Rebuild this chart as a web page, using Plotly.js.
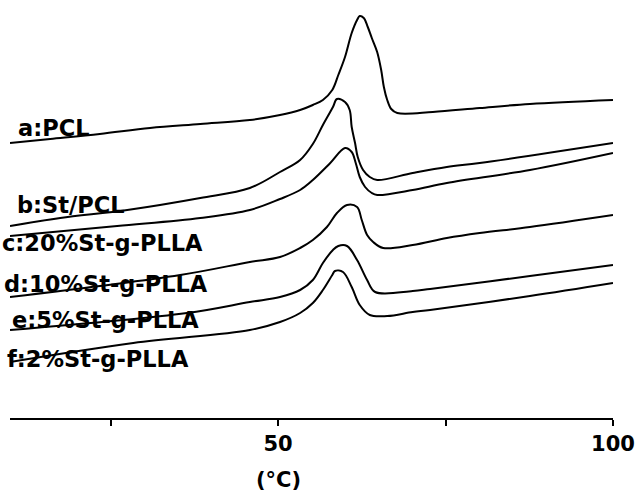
<!DOCTYPE html>
<html>
<head>
<meta charset="utf-8">
<script src="https://cdn.plot.ly/plotly-3.0.1.min.js"></script>
<style>html,body{margin:0;padding:0;background:#fff;}#chart{width:636px;height:491px;}</style>
</head>
<body>
<div id="chart"></div>
<script>
// Temperature (°C) and heat flow (arbitrary units, curves offset)
var tempA = [10, 16, 23.4, 30.9, 38.4, 45.8, 50.3, 53.3, 55.2, 56.7, 58.1, 59.0, 60.0, 61.0, 61.8, 62.2, 62.8, 63.4, 64.0, 64.8, 65.4, 65.8, 66.3, 66.9, 67.8, 73.1, 80.1, 87.6, 100];
var flowA = [27.5, 27.9, 28.4, 29.0, 29.4, 29.8, 30.3, 30.8, 31.3, 31.8, 32.8, 34.3, 36.1, 38.5, 39.8, 40.2, 40.0, 39.1, 38.0, 36.6, 34.8, 33.1, 31.8, 30.9, 30.5, 30.6, 31.0, 31.4, 31.8];

var tempB = [10, 17.5, 27.5, 38.4, 45.8, 50.3, 53.3, 55.2, 56.7, 58.2, 58.8, 60.0, 60.7, 61.0, 61.5, 61.9, 62.7, 63.7, 64.8, 70.1, 75.2, 80.1, 100];
var flowB = [19.2, 20.0, 20.8, 22.0, 23.0, 24.6, 25.8, 27.4, 29.3, 31.1, 31.9, 31.6, 30.8, 29.1, 27.5, 26.1, 24.8, 24.1, 23.8, 24.5, 25.1, 25.5, 27.5];

var tempC = [10, 26.0, 38.4, 45.8, 50.3, 53.3, 55.2, 57.8, 60.0, 61.0, 61.6, 62.2, 63.0, 64.0, 64.8, 70.1, 75.2, 87.6, 100];
var flowC = [18.2, 19.2, 20.0, 20.8, 21.9, 22.8, 23.8, 25.5, 27.0, 26.6, 25.5, 24.1, 23.1, 22.5, 22.3, 22.8, 23.5, 24.8, 26.5];

var tempD = [10, 35.4, 45.8, 50.3, 53.3, 55.2, 57.3, 58.8, 60.3, 61.8, 62.5, 63.3, 64.2, 65.7, 70.1, 75.2, 80.1, 87.6, 100];
var flowD = [12.1, 14.3, 15.6, 16.1, 17.0, 17.8, 19.1, 20.5, 21.3, 21.1, 19.8, 18.3, 17.6, 17.0, 17.3, 18.0, 18.5, 19.1, 20.3];

var tempE = [10, 36.4, 45.8, 50.3, 53.3, 55.2, 56.7, 58.2, 59.0, 60.3, 61.8, 63.3, 64.5, 70.1, 72.7, 87.6, 100];
var flowE = [8.8, 10.5, 11.6, 12.1, 12.8, 13.8, 15.5, 16.8, 17.2, 17.2, 15.8, 13.8, 12.6, 12.7, 12.9, 14.2, 15.3];

var tempF = [10, 28.4, 45.8, 50.3, 53.3, 55.2, 56.7, 58.1, 58.5, 59.7, 61.0, 62.2, 63.7, 66.3, 70.1, 72.7, 87.6, 100];
var flowF = [5.6, 7.5, 8.8, 9.6, 10.5, 11.5, 12.8, 14.3, 14.7, 14.6, 13.1, 11.3, 10.3, 10.2, 10.6, 10.8, 12.2, 13.5];

var seriesLabels = ["a:PCL", "b:St/PCL", "c:20%St-g-PLLA", "d:10%St-g-PLLA", "e:5%St-g-PLLA", "f:2%St-g-PLLA"];
var labelFlow = [29.0, 21.3, 17.5, 13.45, 9.85, 5.95];
var labelPos = [0.010, 0.008, -0.0160, -0.0130, 0.0, -0.009];

var tickVals = [25, 50, 75, 100];
var tickText = ["", "50", "", "100"];
var axisTitle = "(°C)";

var temps = [tempA, tempB, tempC, tempD, tempE, tempF];
var flows = [flowA, flowB, flowC, flowD, flowE, flowF];

var traces = temps.map(function (t, i) {
  return {
    x: t, y: flows[i], type: "scatter", mode: "lines",
    line: {color: "#000", width: 2, shape: "spline", smoothing: 1.0},
    name: seriesLabels[i], showlegend: false, hoverinfo: "skip"
  };
});

var font = {family: "DejaVu Sans, Arial, sans-serif", size: 21, color: "#000", weight: "bold"};
var labelFont = {family: "DejaVu Sans, Arial, sans-serif", size: 22.5, color: "#000", weight: "bold"};

var annotations = seriesLabels.map(function (s, i) {
  return {
    text: s, xref: "paper", yref: "y", x: labelPos[i], y: labelFlow[i],
    xanchor: "left", yanchor: "middle", showarrow: false, font: labelFont
  };
});
annotations.push({
  text: axisTitle, xref: "paper", yref: "paper", x: 0.446, y: -0.148,
  xanchor: "center", yanchor: "middle", showarrow: false, font: font
});

var layout = {
  width: 636, height: 491,
  margin: {l: 10, r: 23, t: 0, b: 73},
  paper_bgcolor: "#fff", plot_bgcolor: "#fff",
  showlegend: false,
  xaxis: {
    range: [10, 100], showline: true, linewidth: 2, linecolor: "#000",
    ticks: "outside", ticklen: 6, tickwidth: 2, tickcolor: "#000",
    tickvals: tickVals, ticktext: tickText, tickfont: font,
    showgrid: false, zeroline: false, fixedrange: true
  },
  yaxis: {range: [0, 41.8], visible: false, showgrid: false, zeroline: false, fixedrange: true},
  annotations: annotations
};

Plotly.newPlot("chart", traces, layout, {displayModeBar: false, staticPlot: true});
</script>
</body>
</html>
